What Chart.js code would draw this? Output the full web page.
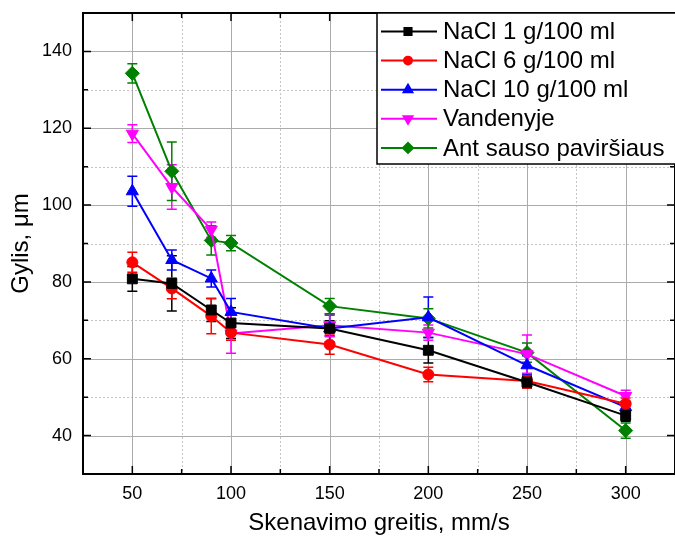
<!DOCTYPE html>
<html>
<head>
<meta charset="utf-8">
<script src="https://cdn.jsdelivr.net/npm/chart.js@4.4.1/dist/chart.umd.min.js"></script>
<style>
  html, body { margin: 0; padding: 0; background: #fff; }
</style>
</head>
<body>
<canvas id="grafikas" width="675" height="538"></canvas>
<script>
// skenavimo greitis, mm/s
const greitis = [50, 70, 90, 100, 150, 200, 250, 300];

// gylis, um (vidurkiai ir paklaidos)
const nacl1 = [80.8, 79.6, 72.7, 69.3, 67.9, 62.2, 53.9, 45.2];
const nacl1Err = [3.2, 7.2, 3.0, 4.0, 2.0, 3.3, 1.5, 1.5];
const nacl6 = [85.1, 78.3, 71.1, 66.8, 63.7, 55.9, 54.2, 48.3];
const nacl6Err = [2.6, 2.7, 4.6, 2.0, 2.5, 1.9, 1.8, 1.5];
const nacl10 = [103.6, 85.7, 80.9, 72.2, 67.9, 70.8, 58.3, 47.4];
const nacl10Err = [3.9, 2.6, 2.2, 3.5, 3.5, 5.3, 2.5, 1.5];
const vandenyje = [118.6, 104.7, 93.6, 66.6, 68.7, 66.8, 61.2, 50.3];
const vandenyjeErr = [2.3, 5.8, 2.0, 5.2, 3.0, 2.0, 5.0, 1.5];
const sausas = [134.3, 108.8, 90.8, 90.1, 73.7, 70.5, 61.6, 41.3];
const sausasErr = [2.5, 7.6, 3.8, 2.0, 2.0, 2.5, 2.5, 2.0];

const xTicks = [50, 100, 150, 200, 250, 300];
const yTicks = [40, 60, 80, 100, 120, 140];

const SRIFTAS = '"Liberation Sans", Arial, sans-serif';

const serijos = [
  { label: 'NaCl 1 g/100 ml', data: nacl1, err: nacl1Err, spalva: '#000000', stilius: 'rect', r: 7, rot: 0 },
  { label: 'NaCl 6 g/100 ml', data: nacl6, err: nacl6Err, spalva: '#ff0000', stilius: 'circle', r: 5.5, rot: 0 },
  { label: 'NaCl 10 g/100 ml', data: nacl10, err: nacl10Err, spalva: '#0000ff', stilius: 'triangle', r: 7, rot: 0 },
  { label: 'Vandenyje', data: vandenyje, err: vandenyjeErr, spalva: '#ff00ff', stilius: 'triangle', r: 7, rot: 180 },
  { label: 'Ant sauso paviršiaus', data: sausas, err: sausasErr, spalva: '#008000', stilius: 'rectRot', r: 7, rot: 0 },
];

// tinklelis, paklaidos, remelis ir legenda
const piesimas = {
  id: 'piesimas',
  beforeDatasetsDraw(chart) {
    const { ctx, chartArea: a, scales: { x, y } } = chart;
    ctx.save();
    // smulkus tinklelis (punktyras)
    ctx.strokeStyle = '#c4c4c4';
    ctx.lineWidth = 1;
    ctx.setLineDash([2, 2]);
    for (let i = 0; i < xTicks.length - 1; i++) {
      const px = Math.round(x.getPixelForValue((xTicks[i] + xTicks[i + 1]) / 2)) + 0.5;
      ctx.beginPath(); ctx.moveTo(px, a.top); ctx.lineTo(px, a.bottom); ctx.stroke();
    }
    for (let i = 0; i < yTicks.length - 1; i++) {
      const py = Math.round(y.getPixelForValue((yTicks[i] + yTicks[i + 1]) / 2)) + 0.5;
      ctx.beginPath(); ctx.moveTo(a.left, py); ctx.lineTo(a.right, py); ctx.stroke();
    }
    // pagrindinis tinklelis
    ctx.setLineDash([]);
    ctx.strokeStyle = '#ababab';
    xTicks.forEach(v => {
      const px = Math.round(x.getPixelForValue(v)) + 0.5;
      ctx.beginPath(); ctx.moveTo(px, a.top); ctx.lineTo(px, a.bottom); ctx.stroke();
    });
    yTicks.forEach(v => {
      const py = Math.round(y.getPixelForValue(v)) + 0.5;
      ctx.beginPath(); ctx.moveTo(a.left, py); ctx.lineTo(a.right, py); ctx.stroke();
    });
    // paklaidu stulpeliai
    ctx.lineWidth = 1.5;
    serijos.forEach((s, i) => {
      if (!chart.isDatasetVisible(i)) return;
      ctx.strokeStyle = s.spalva;
      s.data.forEach((v, j) => {
        const px = x.getPixelForValue(greitis[j]);
        const top = y.getPixelForValue(v + s.err[j]);
        const bot = y.getPixelForValue(v - s.err[j]);
        ctx.beginPath();
        ctx.moveTo(px, top); ctx.lineTo(px, bot);
        ctx.moveTo(px - 5, top); ctx.lineTo(px + 5, top);
        ctx.moveTo(px - 5, bot); ctx.lineTo(px + 5, bot);
        ctx.stroke();
      });
    });
    ctx.restore();
  },
  afterDraw(chart) {
    const { ctx, chartArea: a, scales: { x, y } } = chart;
    ctx.save();
    ctx.strokeStyle = '#000';
    ctx.lineWidth = 2;
    ctx.strokeRect(a.left, a.top, a.right - a.left, a.bottom - a.top);

    // padalos i vidu is visu keturiu pusiu
    ctx.lineWidth = 1.5;
    const xPad = [];
    xTicks.forEach((v, i) => {
      xPad.push([v, 8]);
      if (i < xTicks.length - 1) xPad.push([(v + xTicks[i + 1]) / 2, 5]);
    });
    xPad.forEach(([v, len]) => {
      const px = x.getPixelForValue(v);
      ctx.beginPath();
      ctx.moveTo(px, a.bottom); ctx.lineTo(px, a.bottom - len);
      ctx.moveTo(px, a.top); ctx.lineTo(px, a.top + len);
      ctx.stroke();
    });
    const yPad = [];
    yTicks.forEach((v, i) => {
      yPad.push([v, 8]);
      if (i < yTicks.length - 1) yPad.push([(v + yTicks[i + 1]) / 2, 5]);
    });
    yPad.forEach(([v, len]) => {
      const py = y.getPixelForValue(v);
      ctx.beginPath();
      ctx.moveTo(a.left, py); ctx.lineTo(a.left + len, py);
      ctx.moveTo(a.right, py); ctx.lineTo(a.right - len, py);
      ctx.stroke();
    });

    // legenda
    const lx = 377, ly = 13, lw = 310, lh = 151;
    ctx.fillStyle = '#fff';
    ctx.fillRect(lx, ly, lw, lh);
    ctx.strokeStyle = '#000';
    ctx.lineWidth = 1.5;
    ctx.strokeRect(lx, ly, lw, lh);
    ctx.font = '24px ' + SRIFTAS;
    ctx.textBaseline = 'middle';
    ctx.textAlign = 'left';
    serijos.forEach((s, i) => {
      const ry = ly + 18.5 + i * 29.1;
      ctx.strokeStyle = s.spalva;
      ctx.fillStyle = s.spalva;
      ctx.lineWidth = 2;
      ctx.beginPath(); ctx.moveTo(lx + 4, ry); ctx.lineTo(lx + 60, ry); ctx.stroke();
      Chart.helpers.drawPoint(ctx, { pointStyle: s.stilius, rotation: s.rot, radius: s.r * 0.72, borderWidth: 1 }, lx + 31, ry);
      ctx.fillStyle = '#000';
      ctx.fillText(s.label, lx + 66, ry + 1);
    });
    ctx.restore();
  }
};

new Chart(document.getElementById('grafikas'), {
  type: 'line',
  data: {
    datasets: serijos.map(s => ({
      label: s.label,
      data: s.data.map((v, j) => ({ x: greitis[j], y: v })),
      borderColor: s.spalva,
      backgroundColor: s.spalva,
      borderWidth: 2,
      pointStyle: s.stilius,
      pointRotation: s.rot,
      pointRadius: s.r,
      pointBorderWidth: 1,
      pointBorderColor: s.spalva,
      pointBackgroundColor: s.spalva,
      tension: 0,
    })),
  },
  options: {
    responsive: false,
    animation: false,
    devicePixelRatio: 1,
    layout: { autoPadding: false, padding: { top: 13, right: 0, left: 0, bottom: 0 } },
    plugins: {
      legend: { display: false },
      tooltip: { enabled: false },
    },
    scales: {
      x: {
        type: 'linear',
        min: 25,
        max: 325,
        afterBuildTicks: s => { s.ticks = xTicks.map(v => ({ value: v })); },
        afterFit: s => { s.height = 64; s.paddingLeft = 0; s.paddingRight = 0; },
        grid: { display: false, drawTicks: false },
        border: { display: false },
        ticks: {
          color: '#000',
          font: { family: SRIFTAS, size: 18 },
          padding: 9,
          maxRotation: 0,
          autoSkip: false,
        },
        title: {
          display: true,
          text: 'Skenavimo greitis, mm/s',
          color: '#000',
          font: { family: SRIFTAS, size: 24 },
          padding: { top: 0, bottom: 0 },
        },
      },
      y: {
        type: 'linear',
        min: 30,
        max: 150,
        afterBuildTicks: s => { s.ticks = yTicks.map(v => ({ value: v })); },
        afterFit: s => { s.width = 83; s.paddingTop = 0; s.paddingBottom = 0; },
        grid: { display: false, drawTicks: false },
        border: { display: false },
        ticks: {
          color: '#000',
          font: { family: SRIFTAS, size: 18 },
          padding: 11,
        },
        title: {
          display: true,
          text: 'Gylis, μm',
          color: '#000',
          font: { family: SRIFTAS, size: 24 },
          padding: { top: 7, bottom: 0 },
        },
      },
    },
  },
  plugins: [piesimas],
});
</script>
</body>
</html>
